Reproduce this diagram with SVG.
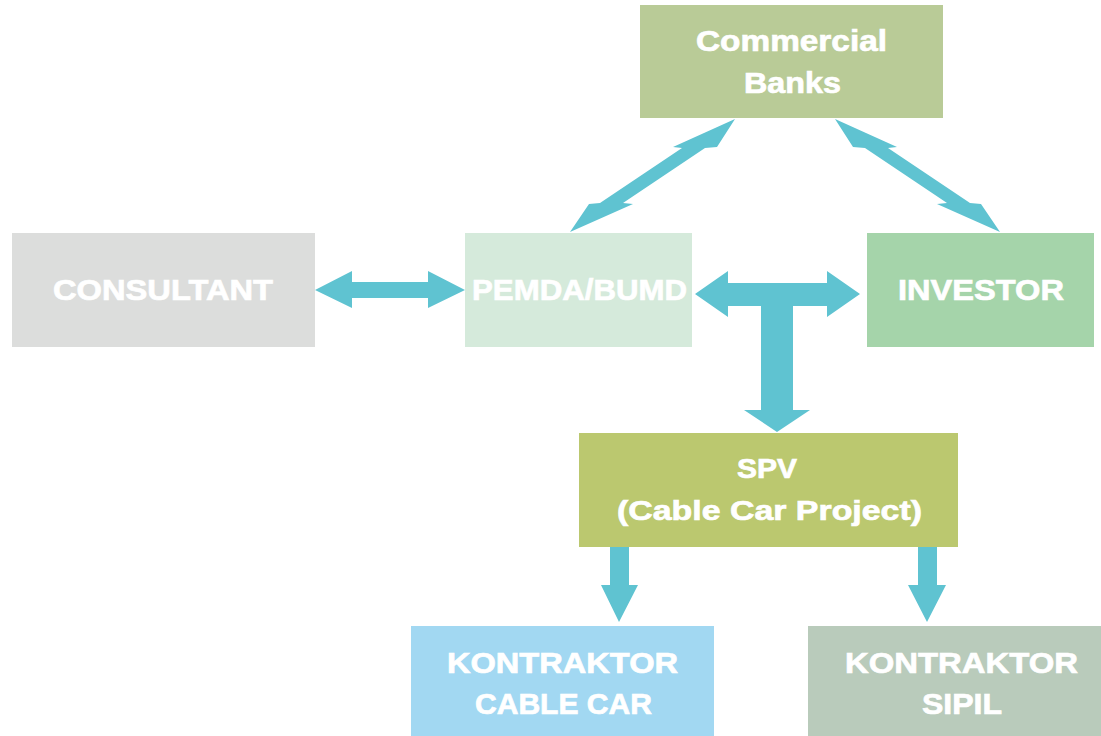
<svg xmlns="http://www.w3.org/2000/svg" width="1101" height="736" viewBox="0 0 1101 736">
<style>
.t{font-family:"Liberation Sans",Arial,sans-serif;font-weight:bold;fill:#ffffff;stroke:#ffffff;stroke-width:0.7}
.a{fill:#5fc3d1}
</style>
<rect width="1101" height="736" fill="#ffffff"/>
<g id="connectors">
<polygon class="a" points="735,119 717,147 705,148 623,203 633,204 570,232 589,204 600,203 682,148 673,147"/>
<polygon class="a" points="835,119 853,147 865,148 947,203 937,204 1000,232 981,204 970,203 888,148 897,147"/>
<polygon class="a" points="315,290 352,271 352,282 428,282 428,271 465,290 428,308 428,298 352,298 352,308"/>
<polygon class="a" points="695,294 728,271 728,283 827,283 827,271 860,294 827,317 827,306 793,306 793,410 810,410 777,432 744,410 761,410 761,306 728,306 728,317"/>
<polygon class="a" points="610,547 629,547 629,585 638,585 619,622 601,585 610,585"/>
<polygon class="a" points="918,547 937,547 937,585 946,585 927,622 908,585 918,585"/>
</g>
<g id="commercial-banks">
<rect x="640" y="5" width="303" height="113" fill="#b9cb97"/>
<text class="t" x="696" y="51" font-size="29" textLength="191" lengthAdjust="spacingAndGlyphs">Commercial</text>
<text class="t" x="744" y="93" font-size="29" textLength="97" lengthAdjust="spacingAndGlyphs">Banks</text>
</g>
<g id="consultant">
<rect x="12" y="233" width="303" height="114" fill="#dcdddc"/>
<text class="t" x="53" y="300" font-size="30" textLength="220" lengthAdjust="spacingAndGlyphs">CONSULTANT</text>
</g>
<g id="pemda-bumd">
<rect x="465" y="233" width="227" height="114" fill="#d5eadb"/>
<text class="t" x="472" y="300" font-size="30" textLength="215" lengthAdjust="spacingAndGlyphs">PEMDA/BUMD</text>
</g>
<g id="investor">
<rect x="867" y="233" width="227" height="114" fill="#a5d4aa"/>
<text class="t" x="898" y="300" font-size="30" textLength="166" lengthAdjust="spacingAndGlyphs">INVESTOR</text>
</g>
<g id="spv">
<rect x="579" y="433" width="379" height="114" fill="#bbc86f"/>
<text class="t" x="737" y="478" font-size="28" textLength="60" lengthAdjust="spacingAndGlyphs">SPV</text>
<text class="t" x="617" y="520" font-size="28" textLength="305" lengthAdjust="spacingAndGlyphs">(Cable Car Project)</text>
</g>
<g id="kontraktor-cable-car">
<rect x="411" y="626" width="303" height="110" fill="#a2d8f2"/>
<text class="t" x="447" y="673" font-size="29" textLength="231" lengthAdjust="spacingAndGlyphs">KONTRAKTOR</text>
<text class="t" x="475" y="714" font-size="29" textLength="177" lengthAdjust="spacingAndGlyphs">CABLE CAR</text>
</g>
<g id="kontraktor-sipil">
<rect x="808" y="626" width="293" height="110" fill="#b9cbbb"/>
<text class="t" x="845" y="673" font-size="29" textLength="233" lengthAdjust="spacingAndGlyphs">KONTRAKTOR</text>
<text class="t" x="922" y="714" font-size="29" textLength="80" lengthAdjust="spacingAndGlyphs">SIPIL</text>
</g>
</svg>
